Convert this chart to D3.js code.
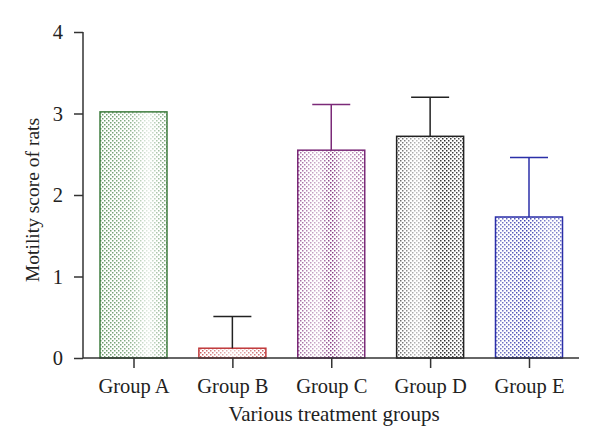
<!DOCTYPE html>
<html>
<head>
<meta charset="utf-8">
<script src="https://d3js.org/d3.v7.min.js"></script>
<style>
  html, body { margin: 0; padding: 0; background: #fff; }
  svg { display: block; font-family: "Liberation Serif", "DejaVu Serif", serif; }
</style>
</head>
<body>
<svg id="chart" width="600" height="448"></svg>
<script>
// --- data ---
const groups = ['Group A', 'Group B', 'Group C', 'Group D', 'Group E'];
const means = [3.02, 0.12, 2.55, 2.72, 1.73];
const errors = [0, 0.39, 0.56, 0.48, 0.73];
const yTicks = [0, 1, 2, 3, 4];

// --- styling ---
const barColors = ['#3f7d3f', '#c0393b', '#7b2a78', '#222222', '#2b2fa8'];
const errColors = ['#222', '#222', '#7b2a78', '#222', '#2b2fa8'];
// white overlay stops (offset, opacity) to mimic the shaded dot screens
const shades = [
  [[0, 0.2], [0.45, 0.4], [0.72, 0.85], [1, 0.25]],
  [[0, 0.15], [0.5, 0.7], [1, 0.15]],
  [[0, 0.25], [0.3, 0.65], [0.5, 0.05], [0.7, 0.65], [1, 0.25]],
  [[0, 0.25], [0.3, 0.7], [0.7, 0.05], [1, 0.25]],
  [[0, 0.4], [0.45, 0.1], [0.8, 0.45], [1, 0.35]]
];

const svg = d3.select('#chart');
const margin = { left: 83, right: 21 };
const W = 600;

const x = d3.scalePoint().domain(groups).range([133.5, 529]);
const y = d3.scaleLinear().domain([0, 4]).range([358, 32]);
const barW = 67;

const defs = svg.append('defs');
groups.forEach((g, i) => {
  const pat = defs.append('pattern')
    .attr('id', 'dots' + i).attr('patternUnits', 'userSpaceOnUse')
    .attr('width', 4).attr('height', 4);
  pat.append('rect').attr('x', 0).attr('y', 0).attr('width', 1.5).attr('height', 1.5).attr('fill', barColors[i]);
  pat.append('rect').attr('x', 2).attr('y', 2).attr('width', 1.5).attr('height', 1.5).attr('fill', barColors[i]);
  const grad = defs.append('linearGradient').attr('id', 'shade' + i)
    .attr('x1', 0).attr('x2', 1).attr('y1', 0).attr('y2', 0);
  shades[i].forEach(s => grad.append('stop').attr('offset', s[0])
    .attr('stop-color', '#fff').attr('stop-opacity', s[1]));
});

// bars
const bars = svg.append('g').selectAll('g').data(groups).join('g');
bars.append('rect')
  .attr('x', d => x(d) - barW / 2).attr('y', (d, i) => y(means[i]))
  .attr('width', barW).attr('height', (d, i) => y(0) - y(means[i]))
  .attr('fill', (d, i) => `url(#dots${i})`);
bars.append('rect')
  .attr('x', d => x(d) - barW / 2).attr('y', (d, i) => y(means[i]))
  .attr('width', barW).attr('height', (d, i) => y(0) - y(means[i]))
  .attr('fill', (d, i) => `url(#shade${i})`)
  .attr('stroke', (d, i) => barColors[i]).attr('stroke-width', 1.5);

// error bars (upper only)
const eb = svg.append('g').selectAll('g').data(groups.filter((d, i) => errors[i] > 0)).join('g')
  .attr('stroke', d => errColors[groups.indexOf(d)]).attr('stroke-width', 1.5);
eb.append('line')
  .attr('x1', d => x(d)).attr('x2', d => x(d))
  .attr('y1', d => y(means[groups.indexOf(d)]))
  .attr('y2', d => { const i = groups.indexOf(d); return y(means[i] + errors[i]); });
eb.append('line')
  .attr('x1', d => x(d) - 19).attr('x2', d => x(d) + 19)
  .attr('y1', d => { const i = groups.indexOf(d); return y(means[i] + errors[i]); })
  .attr('y2', d => { const i = groups.indexOf(d); return y(means[i] + errors[i]); });

// axes
const yAxis = svg.append('g').attr('transform', `translate(${margin.left},0)`)
  .call(d3.axisLeft(y).tickValues(yTicks).tickFormat(d3.format('d')).tickSize(9).tickPadding(11));
const xAxis = svg.append('g').attr('transform', `translate(0,${y(0)})`)
  .call(d3.axisBottom(x).tickSize(10));
xAxis.select('.domain').attr('d', `M${margin.left},0H${W - margin.right}`);
yAxis.select('.domain').attr('d', `M0,${y(4)}V${y(0)}`);
[xAxis, yAxis].forEach(a => {
  a.selectAll('.domain, line').attr('stroke', '#333').attr('stroke-width', 1.5);
  a.selectAll('text').attr('fill', '#222').style('font-size', '20.5px')
    .style('font-family', '"Liberation Serif", serif');
});
xAxis.selectAll('text').attr('y', 35).attr('dy', 0);

// axis titles
svg.append('text').attr('x', 334).attr('y', 421).attr('text-anchor', 'middle')
  .style('font-size', '21px').attr('fill', '#222').text('Various treatment groups');
svg.append('text').attr('transform', 'translate(39,200) rotate(-90)').attr('text-anchor', 'middle')
  .style('font-size', '19.5px').attr('fill', '#222').text('Motility score of rats');
</script>
</body>
</html>
